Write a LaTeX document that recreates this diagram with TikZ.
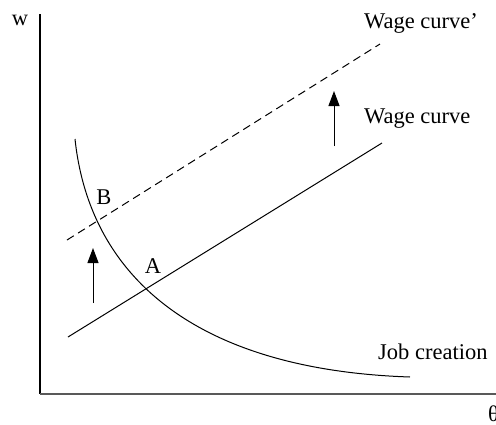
\documentclass[tikz,border=0pt]{standalone}
\usepackage{fontspec}
\setmainfont{Liberation Serif}
\usetikzlibrary{arrows.meta}
\tikzset{
  lbl/.style={inner sep=0pt, font=\fontsize{22.5}{27}\selectfont},
  axisline/.style={line width=1.3pt},
  curve/.style={line width=1pt},
  shiftarrow/.style={line width=1pt, -{Triangle[length=15pt,width=11pt]}},
}
\begin{document}
\begin{tikzpicture}[x=1pt,y=-1pt]
\useasboundingbox (0,0) rectangle (496,424);
% axes
\coordinate (ytop) at (40,14);
\coordinate (origin) at (40,394);
\coordinate (xend) at (497,394);
\draw[axisline] (ytop) -- (origin);
\draw[axisline, color=black!65] (origin) -- (xend);
% wage curves
\coordinate (wc0) at (68,337);
\coordinate (wc1) at (382,143);
\draw[curve] (wc0) -- (wc1);
\coordinate (wd0) at (67,240);
\coordinate (wd1) at (380,44);
\draw[curve, dash pattern=on 8pt off 5pt] (wd0) -- (wd1);
% job creation
\coordinate (jc0) at (75,139);
\coordinate (jc1) at (410,377);
\draw[curve] (jc0) .. controls (90,280) and (200,370) .. (jc1);
% arrows
\coordinate (a0) at (93,303);
\coordinate (a1) at (93,248);
\draw[shiftarrow] (a0) -- (a1);
\coordinate (b0) at (334,146);
\coordinate (b1) at (334,91);
\draw[shiftarrow] (b0) -- (b1);
% labels
\node[lbl, anchor=base] (w) at (20,25) {w};
\node[lbl, anchor=base west] (wcp) at (364,28) {Wage curve’};
\node[lbl, anchor=base west] (wc) at (364,123) {Wage curve};
\node[lbl, anchor=base west] (jc) at (378,359) {Job creation};
\node[lbl, anchor=base] (B) at (104,204) {B};
\node[lbl, anchor=base] (A) at (153,273) {A};
\node[lbl, anchor=base west] (theta) at (488,421) {θ};
\end{tikzpicture}
\end{document}
